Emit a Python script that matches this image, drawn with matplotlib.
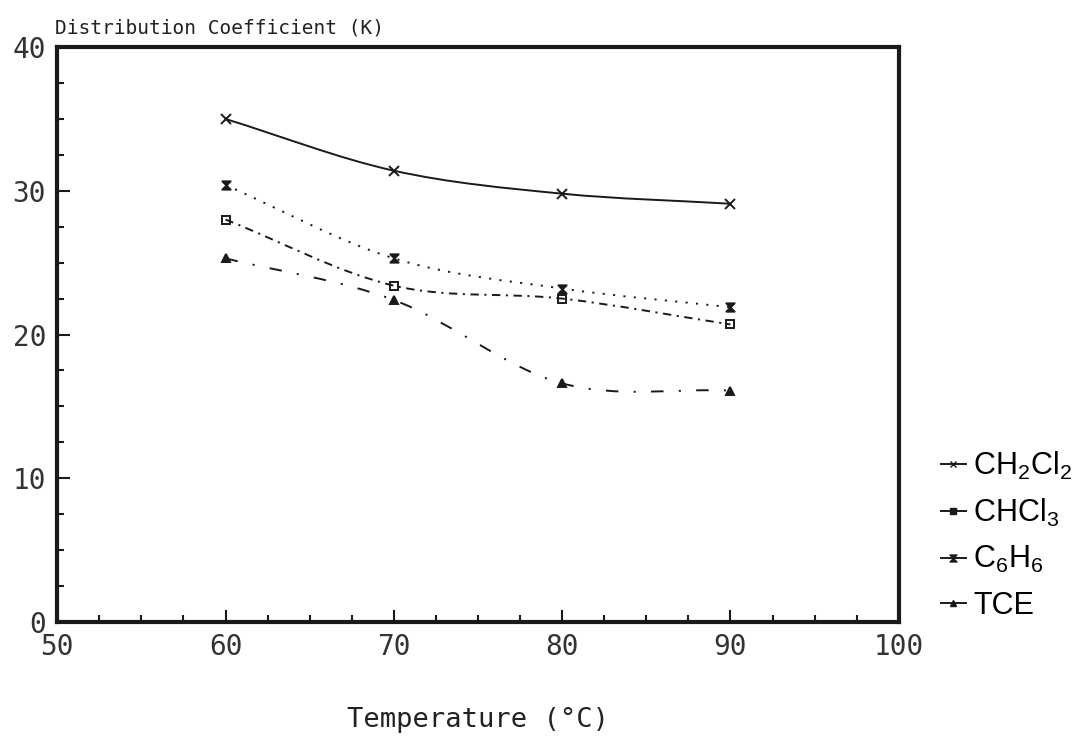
import numpy as np
import matplotlib
matplotlib.use('Agg')
import matplotlib.pyplot as plt
from matplotlib.path import Path
from matplotlib.patches import PathPatch
from matplotlib.lines import Line2D
from matplotlib.ticker import MultipleLocator

# data
temperature = [60, 70, 80, 90]
k_ch2cl2 = [35.0, 31.4, 29.8, 29.1]
k_c6h6 = [30.4, 25.3, 23.2, 21.9]
k_chcl3 = [28.0, 23.4, 22.5, 20.7]
k_tce = [25.3, 22.4, 16.6, 16.1]

labels = [r'CH$_2$Cl$_2$', r'CHCl$_3$', r'C$_6$H$_6$', 'TCE']


def smooth_path(x, y):
    # Catmull-Rom through the points, drawn as cubic Bezier segments
    x = np.asarray(x, float)
    y = np.asarray(y, float)
    px = np.concatenate([[2 * x[0] - x[1]], x, [2 * x[-1] - x[-2]]])
    py = np.concatenate([[2 * y[0] - y[1]], y, [2 * y[-1] - y[-2]]])
    verts = [(x[0], y[0])]
    codes = [Path.MOVETO]
    for i in range(1, len(px) - 2):
        c1 = (px[i] + (px[i + 1] - px[i - 1]) / 6, py[i] + (py[i + 1] - py[i - 1]) / 6)
        c2 = (px[i + 1] - (px[i + 2] - px[i]) / 6, py[i + 1] - (py[i + 2] - py[i]) / 6)
        verts += [c1, c2, (px[i + 1], py[i + 1])]
        codes += [Path.CURVE4] * 3
    return Path(verts, codes)


hourglass = Path([(-1, 1), (1, 1), (-1, -1), (1, -1), (-1, 1)],
                 [Path.MOVETO, Path.LINETO, Path.LINETO, Path.LINETO, Path.CLOSEPOLY])

plt.rcParams['lines.scale_dashes'] = False
plt.rcParams['mathtext.default'] = 'regular'

fig = plt.figure(figsize=(10.79, 7.36), dpi=100)
ax = fig.add_axes([0.053, 0.155, 0.780, 0.781])

ink = '#1a1a1a'
series = [
    (k_ch2cl2, '-', 'x', 7, 'none'),
    (k_chcl3, (0, (6, 4, 1.5, 4)), 's', 6, 'none'),
    (k_c6h6, (0, (1.5, 6)), hourglass, 6, ink),
    (k_tce, (0, (9, 11, 1.5, 11)), '^', 6, ink),
]

handles = []
for (vals, ls, mk, ms, mfc), lab in zip(series, labels):
    ax.add_patch(PathPatch(smooth_path(temperature, vals), fill=False,
                           edgecolor=ink, lw=1.4, linestyle=ls))
    ax.plot(temperature, vals, linestyle='none', marker=mk, markersize=ms,
            markerfacecolor=mfc, markeredgecolor=ink, markeredgewidth=1.4)
    handles.append(Line2D([], [], color=ink, lw=1.4, marker=mk, markersize=5,
                          markerfacecolor=ink, markeredgecolor=ink, label=lab))

ax.set_xlim(50, 100)
ax.set_ylim(0, 40)
ax.xaxis.set_major_locator(MultipleLocator(10))
ax.xaxis.set_minor_locator(MultipleLocator(2.5))
ax.yaxis.set_major_locator(MultipleLocator(10))
ax.yaxis.set_minor_locator(MultipleLocator(2.5))

for s in ax.spines.values():
    s.set_linewidth(3)
    s.set_color(ink)

ax.tick_params(which='both', direction='in', top=False, right=False, color=ink)
ax.tick_params(which='major', length=9, width=1.5, pad=8)
ax.tick_params(which='minor', length=5, width=1.5)
for t in ax.get_xticklabels() + ax.get_yticklabels():
    t.set_fontfamily('DejaVu Sans Mono')
    t.set_fontsize(20)
    t.set_color('#333333')

fig.text(0.051, 0.962, 'Distribution Coefficient (K)', family='DejaVu Sans Mono',
         fontsize=14, color='#222222', ha='left', va='center')
fig.text(0.443, 0.022, 'Temperature (\u00b0C)', family='DejaVu Sans Mono',
         fontsize=19.5, color='#222222', ha='center', va='center')

fig.legend(handles=handles, loc='lower left', bbox_to_anchor=(0.861, 0.14),
           frameon=False, prop={'family': 'Liberation Sans', 'size': 22},
           handlelength=0.8, handletextpad=0.25, labelspacing=0.5,
           borderaxespad=0)

fig.savefig('out.png', dpi=100, facecolor='white')
